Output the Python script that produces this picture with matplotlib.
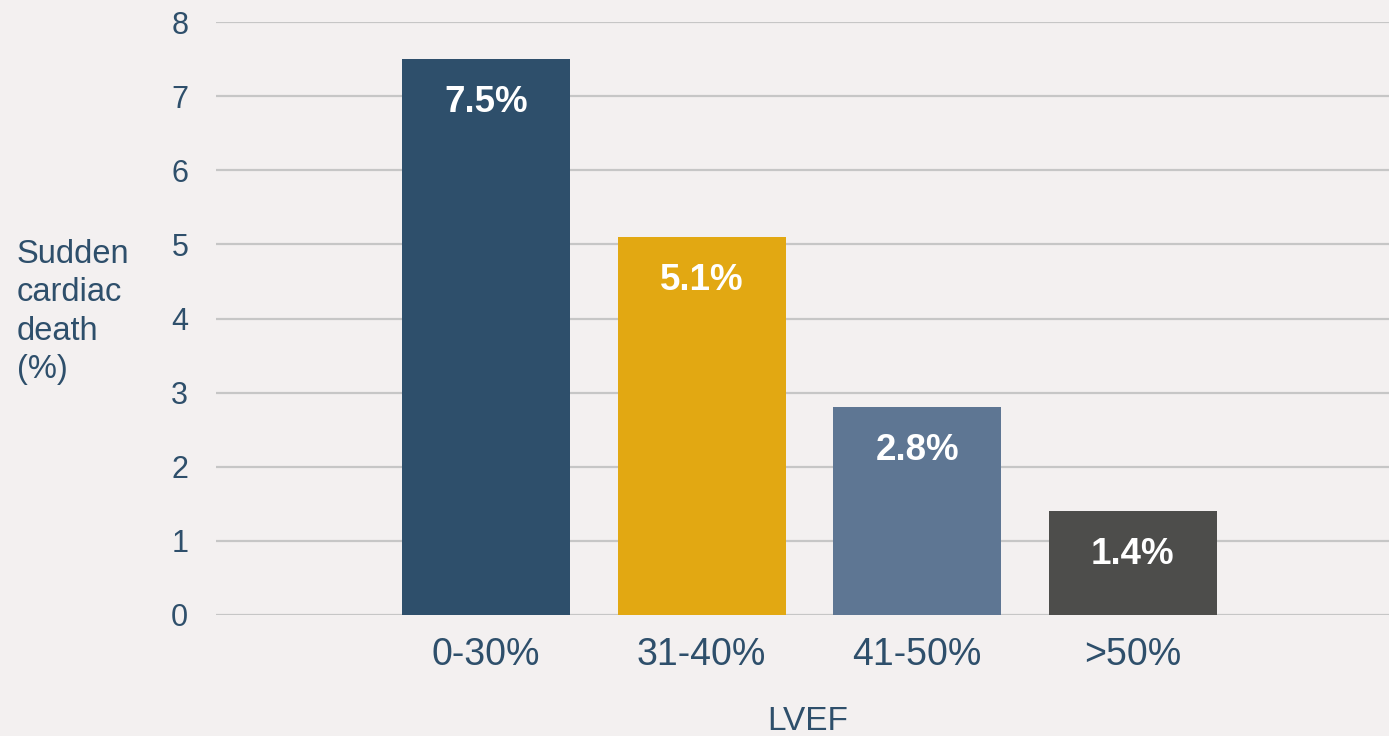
import matplotlib
matplotlib.use("Agg")
import matplotlib.pyplot as plt

# --- Data ---
categories = ["0-30%", "31-40%", "41-50%", ">50%"]
values = [7.5, 5.1, 2.8, 1.4]
bar_labels = ["7.5%", "5.1%", "2.8%", "1.4%"]
bar_colors = ["#2e4f6b", "#e2a812", "#5e7693", "#4d4d4b"]
yticks = [0, 1, 2, 3, 4, 5, 6, 7, 8]

bg = "#f3f0f0"
textColor = "#2e4f6b"

plt.rcParams["font.family"] = ["Liberation Sans", "DejaVu Sans"]

fig = plt.figure(figsize=(13.89, 7.36), dpi=100, facecolor=bg)
ax = fig.add_axes([216 / 1389, 1 - 615 / 736, 1 - 216 / 1389, (615 - 22) / 736])
ax.set_facecolor(bg)

x = range(len(categories))
bars = ax.bar(x, values, width=0.78, color=bar_colors, zorder=3)

# value labels inside the bars
for b, lab in zip(bars, bar_labels):
    ax.annotate(lab, (b.get_x() + b.get_width() / 2, b.get_height()),
                xytext=(0, -31), textcoords="offset points",
                ha="center", va="center", color="white",
                fontsize=26.5, fontweight="bold", zorder=4)

ax.set_xlim(-1.254, 4.19)
ax.set_ylim(0, 8)
ax.set_yticks(yticks)
ax.set_xticks(list(x))
ax.set_xticklabels(categories)

ax.grid(axis="y", color="#c6c6c6", linewidth=1.6, zorder=0)
for s in ax.spines.values():
    s.set_visible(False)

ax.tick_params(axis="y", length=0, pad=20, labelsize=22, labelcolor=textColor)
ax.tick_params(axis="x", length=0, pad=16, labelsize=27, labelcolor=textColor)

# axis titles
fig.text(17 / 1389, 1 - 312 / 736, "Sudden\ncardiac\ndeath\n(%)", ha="left", va="center",
         fontsize=23.5, color=textColor, linespacing=1.31)
fig.text(808 / 1389, 1 - 721 / 736, "LVEF", ha="center", va="center",
         fontsize=24, color=textColor)

fig.savefig("out.png", dpi=100, facecolor=bg)
